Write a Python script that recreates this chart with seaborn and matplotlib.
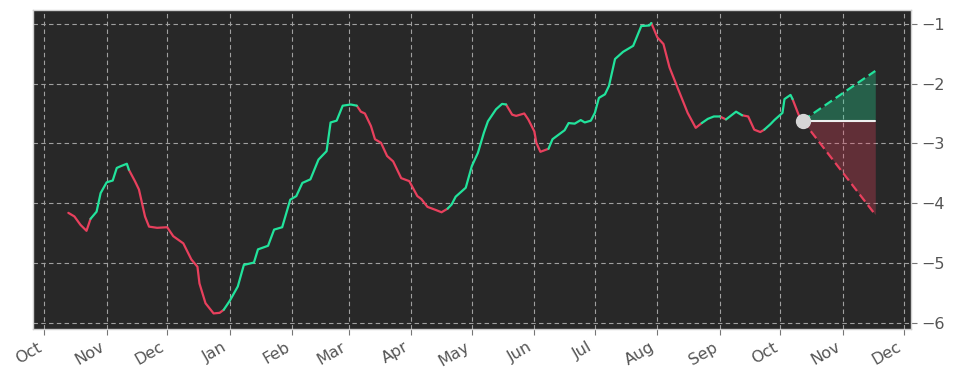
import numpy as np
import pandas as pd
import matplotlib
matplotlib.use("Agg")
import matplotlib.pyplot as plt
import matplotlib.dates as mdates
import seaborn as sns

# ---- data ----
dates = [
    "2022-10-13", "2022-10-16", "2022-10-19", "2022-10-22", "2022-10-24", "2022-10-27", "2022-10-29",
    "2022-11-01", "2022-11-04", "2022-11-06", "2022-11-08", "2022-11-11", "2022-11-12", "2022-11-15",
    "2022-11-17", "2022-11-20", "2022-11-22", "2022-11-26", "2022-12-01", "2022-12-04", "2022-12-09",
    "2022-12-13", "2022-12-16", "2022-12-17", "2022-12-20", "2022-12-24", "2022-12-27", "2022-12-29",
    "2023-01-01", "2023-01-05", "2023-01-08", "2023-01-13", "2023-01-15", "2023-01-20", "2023-01-23",
    "2023-01-27", "2023-01-31", "2023-02-03", "2023-02-06", "2023-02-10", "2023-02-14", "2023-02-18",
    "2023-02-20", "2023-02-23", "2023-02-26", "2023-03-02", "2023-03-05", "2023-03-07", "2023-03-09",
    "2023-03-12", "2023-03-14", "2023-03-17", "2023-03-20", "2023-03-23", "2023-03-27", "2023-03-31",
    "2023-04-04", "2023-04-06", "2023-04-09", "2023-04-13", "2023-04-16", "2023-04-19", "2023-04-21",
    "2023-04-23", "2023-04-28", "2023-05-01", "2023-05-04", "2023-05-07", "2023-05-09", "2023-05-13",
    "2023-05-16", "2023-05-18", "2023-05-21", "2023-05-23", "2023-05-27", "2023-05-29", "2023-06-01",
    "2023-06-02", "2023-06-04", "2023-06-08", "2023-06-10", "2023-06-14", "2023-06-16", "2023-06-18",
    "2023-06-21", "2023-06-24", "2023-06-26", "2023-06-29", "2023-07-01", "2023-07-03", "2023-07-06",
    "2023-07-08", "2023-07-11", "2023-07-15", "2023-07-20", "2023-07-24", "2023-07-28", "2023-07-29",
    "2023-08-01", "2023-08-04", "2023-08-07", "2023-08-11", "2023-08-16", "2023-08-20", "2023-08-23",
    "2023-08-26", "2023-08-29", "2023-09-01", "2023-09-04", "2023-09-09", "2023-09-12", "2023-09-15",
    "2023-09-18", "2023-09-21", "2023-09-23", "2023-09-26", "2023-09-28", "2023-10-02", "2023-10-03",
    "2023-10-06", "2023-10-07", "2023-10-10", "2023-10-12",
]
values = [
    -4.16, -4.22, -4.36, -4.46, -4.26, -4.14, -3.83,
    -3.65, -3.62, -3.41, -3.38, -3.34, -3.44, -3.63,
    -3.77, -4.22, -4.39, -4.41, -4.40, -4.55, -4.67,
    -4.94, -5.06, -5.34, -5.67, -5.84, -5.83, -5.78,
    -5.63, -5.39, -5.03, -4.99, -4.77, -4.71, -4.44,
    -4.40, -3.94, -3.88, -3.66, -3.60, -3.27, -3.13,
    -2.65, -2.62, -2.37, -2.35, -2.37, -2.47, -2.50,
    -2.71, -2.93, -2.99, -3.21, -3.30, -3.58, -3.63,
    -3.88, -3.93, -4.06, -4.11, -4.15, -4.09, -4.02,
    -3.89, -3.74, -3.38, -3.16, -2.82, -2.63, -2.43,
    -2.34, -2.35, -2.52, -2.54, -2.50, -2.60, -2.80,
    -2.99, -3.14, -3.09, -2.93, -2.83, -2.78, -2.66,
    -2.67, -2.61, -2.65, -2.62, -2.49, -2.24, -2.18,
    -2.04, -1.59, -1.47, -1.37, -1.04, -1.03, -0.99,
    -1.23, -1.34, -1.73, -2.07, -2.49, -2.74, -2.66,
    -2.59, -2.55, -2.55, -2.60, -2.47, -2.53, -2.55,
    -2.77, -2.81, -2.77, -2.68, -2.61, -2.49, -2.26,
    -2.19, -2.26, -2.52, -2.62,
]
forecast_dates = ["2023-10-12", "2023-11-17"]
forecast_high = [-2.62, -1.79]
forecast_low = [-2.62, -4.19]
forecast_base = [-2.62, -2.62]
y_ticks = [-1, -2, -3, -4, -5, -6]

GREEN = "#22e39c"
RED = "#e8405d"
BG = "#282828"

sns.set_style("darkgrid", {
    "axes.facecolor": BG,
    "grid.color": "#a0a0a0",
    "grid.linestyle": (0, (4, 3)),
    "axes.edgecolor": "#cfcfcf",
})
plt.rcParams["font.family"] = ["DejaVu Sans"]

fig = plt.figure(figsize=(9.55, 3.81), dpi=100)
ax = fig.add_axes([0.0346, 0.1365, 0.9194, 0.8375])

# colour each segment by the trend over the previous ~8 days
d = pd.to_datetime(dates)
v = np.array(values)
t = (d - d[0]).days.values.astype(float)
lag = 8.0
labels = []
prev = "down"
for i in range(len(v) - 1):
    ref = np.interp(t[i + 1] - lag, t, v)
    diff = v[i + 1] - ref
    if abs(diff) < 0.02:
        lab = prev
    else:
        lab = "up" if diff > 0 else "down"
    labels.append(lab)
    prev = lab

rows = []
run = 0
for i, lab in enumerate(labels):
    if i > 0 and lab != labels[i - 1]:
        run += 1
    rows.append((d[i], v[i], run, lab))
    rows.append((d[i + 1], v[i + 1], run, lab))
df = pd.DataFrame(rows, columns=["date", "value", "run", "dir"])

sns.lineplot(data=df, x="date", y="value", hue="dir", units="run", estimator=None,
             sort=False, palette={"up": GREEN, "down": RED}, linewidth=1.6,
             legend=False, ax=ax)

fd = pd.to_datetime(forecast_dates)
ax.fill_between(fd, forecast_base, forecast_high, color=GREEN, alpha=0.3, linewidth=0)
ax.fill_between(fd, forecast_low, forecast_base, color=RED, alpha=0.3, linewidth=0)
ax.plot(fd, forecast_high, color=GREEN, linestyle=(0, (4, 2)), linewidth=1.6)
ax.plot(fd, forecast_low, color=RED, linestyle=(0, (4, 2)), linewidth=1.6)
ax.plot(fd, forecast_base, color="#eeeeee", linewidth=1.5)
ax.plot(fd[:1], forecast_base[:1], "o", color="#d6d6d6", markersize=10, zorder=5)

ax.set_ylim(-6.1, -0.77)
ax.set_xlim(pd.Timestamp("2022-09-25 12:00"), pd.Timestamp("2023-12-04 18:00"))
ax.set_yticks(y_ticks)
ax.yaxis.tick_right()
ax.xaxis.set_major_locator(mdates.MonthLocator())
ax.xaxis.set_major_formatter(mdates.DateFormatter("%b"))
ax.tick_params(axis="both", colors="#777777", labelcolor="#555555", labelsize=11.5,
               length=4, width=0.8, direction="out")
ax.tick_params(axis="x", bottom=True)
ax.tick_params(axis="y", right=True)
for lbl in ax.get_xticklabels():
    lbl.set_rotation(30)
    lbl.set_ha("right")
ax.set_xlabel("")
ax.set_ylabel("")
ax.grid(True, color="#a0a0a0", linestyle=(0, (4, 3)), linewidth=0.8)
for s in ax.spines.values():
    s.set_visible(True)
    s.set_color("#d0d0d0")
    s.set_linewidth(1.0)

fig.savefig("out.png", dpi=100, facecolor="white")
